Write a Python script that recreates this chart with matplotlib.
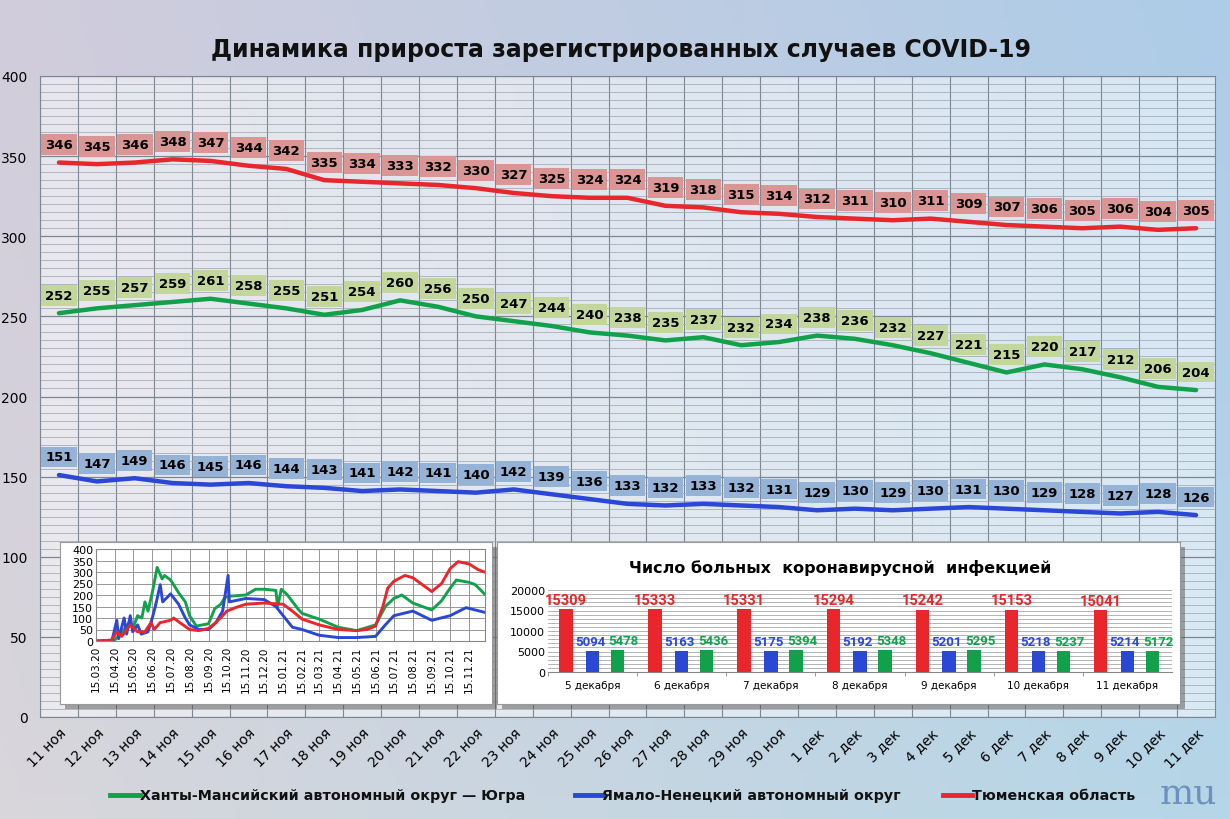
#! /usr/bin/env python3

"""
Динамика прироста зарегистрированных случаев COVID-19: Тюменская область,
ХМАО-Югра и ЯНАО, с двумя врезками.
"""
import numpy as np
import pandas as pd
import matplotlib
matplotlib.use('Agg')
import matplotlib.pyplot as plt
import matplotlib.dates as mdates
from matplotlib.patches import Rectangle

days = ['11 ноя', '12 ноя', '13 ноя', '14 ноя', '15 ноя', '16 ноя', '17 ноя',
        '18 ноя', '19 ноя', '20 ноя', '21 ноя', '22 ноя', '23 ноя', '24 ноя',
        '25 ноя', '26 ноя', '27 ноя', '28 ноя', '29 ноя', '30 ноя',
        '1 дек', '2 дек', '3 дек', '4 дек', '5 дек', '6 дек', '7 дек',
        '8 дек', '9 дек', '10 дек', '11 дек']
tyumen = [346, 345, 346, 348, 347, 344, 342, 335, 334, 333, 332, 330, 327,
          325, 324, 324, 319, 318, 315, 314, 312, 311, 310, 311, 309, 307,
          306, 305, 306, 304, 305]
hmao = [252, 255, 257, 259, 261, 258, 255, 251, 254, 260, 256, 250, 247,
        244, 240, 238, 235, 237, 232, 234, 238, 236, 232, 227, 221, 215,
        220, 217, 212, 206, 204]
yanao = [151, 147, 149, 146, 145, 146, 144, 143, 141, 142, 141, 140, 142,
         139, 136, 133, 132, 133, 132, 131, 129, 130, 129, 130, 131, 130,
         129, 128, 127, 128, 126]

# inset: the whole pandemic
hist_hmao_dates = ['2020-03-15', '2020-04-15', '2020-04-27', '2020-05-08',
                   '2020-05-15', '2020-05-22', '2020-05-29', '2020-06-03',
                   '2020-06-08', '2020-06-15', '2020-06-23', '2020-07-01',
                   '2020-07-05', '2020-07-15', '2020-07-28', '2020-08-08',
                   '2020-08-15', '2020-08-26', '2020-09-15', '2020-09-25',
                   '2020-10-05', '2020-10-12', '2020-10-20', '2020-11-15',
                   '2020-12-01', '2020-12-15', '2021-01-03', '2021-01-06',
                   '2021-01-12', '2021-01-22', '2021-02-08', '2021-02-15',
                   '2021-03-15', '2021-04-15', '2021-05-15', '2021-06-15',
                   '2021-07-01', '2021-07-15', '2021-07-28', '2021-08-15',
                   '2021-09-15', '2021-10-01', '2021-10-15', '2021-10-25',
                   '2021-11-15', '2021-11-25', '2021-12-10']
hist_hmao = [0, 5, 40, 80, 60, 110, 100, 170, 130, 210, 320, 270, 285, 265,
             210, 170, 110, 65, 75, 140, 160, 190, 195, 200, 225, 225, 220,
             150, 225, 200, 140, 120, 95, 60, 45, 70, 150, 185, 200, 165,
             135, 175, 230, 265, 255, 245, 205]
hist_yanao_dates = ['2020-03-15', '2020-04-10', '2020-04-18', '2020-04-21',
                    '2020-04-30', '2020-05-04', '2020-05-10', '2020-05-14',
                    '2020-05-22', '2020-05-28', '2020-06-08', '2020-06-15',
                    '2020-06-20', '2020-06-28', '2020-07-02', '2020-07-15',
                    '2020-07-28', '2020-08-08', '2020-08-15', '2020-08-30',
                    '2020-09-15', '2020-09-27', '2020-10-08', '2020-10-17',
                    '2020-10-19', '2020-11-15', '2020-12-15', '2021-01-03',
                    '2021-01-15', '2021-01-30', '2021-02-15', '2021-03-15',
                    '2021-04-15', '2021-05-15', '2021-06-15', '2021-07-01',
                    '2021-07-15', '2021-08-15', '2021-09-15', '2021-10-15',
                    '2021-11-10', '2021-11-25', '2021-12-10']
hist_yanao = [0, 0, 90, 10, 100, 30, 110, 40, 70, 30, 40, 100, 150, 245,
              170, 205, 160, 100, 70, 50, 50, 80, 130, 285, 170, 185, 180,
              150, 110, 60, 50, 25, 15, 15, 20, 70, 110, 130, 90, 110, 145,
              135, 125]
hist_tyumen_dates = ['2020-03-15', '2020-04-08', '2020-04-18', '2020-04-26',
                     '2020-05-10', '2020-05-22', '2020-06-03', '2020-06-13',
                     '2020-06-18', '2020-06-28', '2020-07-15', '2020-07-20',
                     '2020-07-30', '2020-08-15', '2020-08-30', '2020-09-15',
                     '2020-09-27', '2020-10-08', '2020-10-15', '2020-10-29',
                     '2020-11-15', '2020-12-15', '2021-01-15', '2021-01-30',
                     '2021-02-15', '2021-03-15', '2021-04-15', '2021-05-15',
                     '2021-06-01', '2021-06-15', '2021-06-27', '2021-07-05',
                     '2021-07-15', '2021-08-02', '2021-08-15', '2021-09-15',
                     '2021-10-01', '2021-10-15', '2021-10-28', '2021-11-15',
                     '2021-11-30', '2021-12-10']
hist_tyumen = [0, 0, 40, 20, 70, 40, 40, 80, 50, 80, 90, 100, 80, 50, 45,
               55, 80, 110, 130, 145, 160, 165, 160, 130, 95, 70, 50, 45, 50,
               65, 150, 230, 260, 285, 275, 215, 250, 315, 345, 335, 310, 300]

# inset: number of sick
ill_days = ['5 декабря', '6 декабря', '7 декабря', '8 декабря', '9 декабря',
            '10 декабря', '11 декабря']
ill_tyumen = [15309, 15333, 15331, 15294, 15242, 15153, 15041]
ill_yanao = [5094, 5163, 5175, 5192, 5201, 5218, 5214]
ill_hmao = [5478, 5436, 5394, 5348, 5295, 5237, 5172]

RED = '#e8262b'
GREEN = '#12a14b'
BLUE = '#2a47d6'

W, H = 1230, 820


def fig_rect(x0, y0, x1, y1):
    # pixel box (top-left origin) -> figure fraction
    return [x0 / W, 1 - y1 / H, (x1 - x0) / W, (y1 - y0) / H]


fig = plt.figure(figsize=(12.3, 8.2), dpi=100)

# background
bg = fig.add_axes([0, 0, 1, 1], zorder=-10)
gx = np.linspace(0, 1, 200)
gy = np.linspace(0, 1, 120)
GX, GY = np.meshgrid(gx, gy)
r = 0.82 - 0.14 * GX + 0.03 * GY
g = 0.80 + 0.00 * GX + 0.04 * GY
b = 0.86 + 0.05 * GX
bg.imshow(np.dstack([r, g, b]).clip(0, 1), aspect='auto', extent=[0, 1, 0, 1])
bg.set_xlim(0, 1)
bg.set_ylim(0, 1)
bg.axis('off')

fig.text(0.505, 1 - 50 / H,
         'Динамика прироста зарегистрированных случаев COVID-19',
         ha='center', va='center', fontsize=17, fontweight='bold',
         color='#111111')

# main chart
ax = fig.add_axes(fig_rect(40, 77, 1215, 718), zorder=1)
ax.patch.set_facecolor('white')
ax.patch.set_alpha(0.5)
x = np.arange(len(days))
series = [(tyumen, RED, '#d99694'), (hmao, GREEN, '#c3d69b'),
          (yanao, BLUE, '#95b3d7')]
for vals, col, boxcol in series:
    ax.plot(x, vals, color=col, lw=3.2, solid_capstyle='round', zorder=3)
    for i, v in enumerate(vals):
        ax.annotate(str(v), (i, v), xytext=(0, 13), textcoords='offset points',
                    ha='center', va='center', fontsize=9.5, fontweight='bold',
                    color='black', zorder=4,
                    bbox=dict(boxstyle='square,pad=0.3', fc=boxcol,
                              ec='none'))
ax.set_xlim(-0.5, len(days) - 0.5)
ax.set_ylim(0, 400)
ax.set_yticks(range(0, 401, 50))
ax.set_yticks(range(0, 401, 5), minor=True)
ax.set_xticks(x)
ax.set_xticklabels(days, rotation=45, ha='right', rotation_mode='anchor',
                   fontsize=10)
ax.set_xticks(x - 0.5, minor=True)
ax.tick_params(axis='both', which='both', length=0)
ax.tick_params(axis='y', labelsize=10, pad=9)
ax.tick_params(axis='x', pad=6)
ax.grid(axis='y', which='major', color='#7d8794', lw=0.9)
ax.grid(axis='y', which='minor', color='#9aa3ad', lw=0.5)
ax.grid(axis='x', which='minor', color='#7d8794', lw=0.8)
for s in ax.spines.values():
    s.set_color('#7d8794')

# inset frames with shadow
for x0, y0, x1, y1 in [(60, 543, 492, 705), (497, 543, 1180, 705)]:
    fig.patches.append(Rectangle((x0 / W + 0.004, 1 - y1 / H - 0.006),
                                 (x1 - x0) / W, (y1 - y0) / H,
                                 transform=fig.transFigure, fc='#555555',
                                 alpha=0.5, ec='none', zorder=2))
    fr = fig.add_axes(fig_rect(x0, y0, x1, y1), zorder=3)
    fr.set_xticks([])
    fr.set_yticks([])
    fr.set_facecolor('white')
    for s in fr.spines.values():
        s.set_color('#999999')

# inset 1: long history
a1 = fig.add_axes(fig_rect(96, 550, 485, 642), zorder=4)
for dts, vals, col in [(hist_hmao_dates, hist_hmao, GREEN),
                       (hist_yanao_dates, hist_yanao, BLUE),
                       (hist_tyumen_dates, hist_tyumen, RED)]:
    a1.plot(pd.to_datetime(dts), vals, color=col, lw=2.1)
a1.set_ylim(0, 400)
a1.set_yticks(range(0, 401, 50))
a1.set_xlim(pd.Timestamp('2020-03-15'), pd.Timestamp('2021-12-11'))
mticks = (pd.date_range('2020-03-01', '2021-11-01', freq='MS')
          + pd.Timedelta(days=14))
a1.set_xticks(mticks)
a1.xaxis.set_major_formatter(mdates.DateFormatter('%d.%m.%y'))
a1.tick_params(axis='x', rotation=90, labelsize=7.5, length=0, pad=3)
a1.tick_params(axis='y', labelsize=8, length=0, pad=2)
a1.grid(color='#888888', lw=0.6)
for s in a1.spines.values():
    s.set_color('#888888')

# inset 2: sick people
fig.text(840 / W, 1 - 568 / H,
         'Число больных  коронавирусной  инфекцией', ha='center',
         va='center', fontsize=11.5, fontweight='bold')
a2 = fig.add_axes(fig_rect(548, 591, 1172, 673), zorder=4)
xi = np.arange(len(ill_days))
bw = 0.15
# (bar offset, label shift, values, colour, label size)
for off, shift, vals, col, fs in [(-0.3, 0.0, ill_tyumen, RED, 10.5),
                                  (0, -0.03, ill_yanao, BLUE, 9.5),
                                  (0.28, 0.07, ill_hmao, GREEN, 9.5)]:
    a2.bar(xi + off, vals, width=bw, color=col, zorder=3)
    for i, v in enumerate(vals):
        a2.text(i + off + shift, v + 2300, str(v), ha='center', va='center',
                fontsize=fs, fontweight='bold', family='Roboto', color=col,
                zorder=4)
a2.set_xlim(-0.5, len(ill_days) - 0.5)
a2.set_ylim(0, 20000)
a2.set_yticks(range(0, 20001, 5000))
a2.set_yticks(range(0, 20001, 1000), minor=True)
a2.set_xticks(xi)
a2.set_xticklabels(ill_days, fontsize=7.5)
a2.set_xticks(xi - 0.5, minor=True)
a2.tick_params(axis='y', which='both', labelsize=8, length=0, pad=2)
a2.tick_params(axis='x', which='major', length=0, pad=6)
a2.tick_params(axis='x', which='minor', length=3, color='#888888')
a2.grid(axis='y', which='both', color='#a8a8a8', lw=0.6, zorder=0)
for side in ['top', 'right', 'left']:
    a2.spines[side].set_visible(False)
a2.spines['bottom'].set_color('#888888')

# legend
for lx, tx, label, col in [(110, 140, 'Ханты-Мансийский автономный округ — Югра', GREEN),
                           (575, 602, 'Ямало-Ненецкий автономный округ', BLUE),
                           (943, 972, 'Тюменская область', RED)]:
    bg.plot([lx / W, tx / W], [1 - 796 / H] * 2, color=col, lw=3.5)
    fig.text(tx / W, 1 - 796 / H, label, ha='left', va='center',
             fontsize=10.3, fontweight='bold', color='#111111')

fig.text(1188 / W, 1 - 795 / H, 'mu', ha='center', va='center',
         fontsize=26, family='DejaVu Serif', color='#5b7fb5', alpha=0.8)

fig.savefig('out.png', dpi=100)
